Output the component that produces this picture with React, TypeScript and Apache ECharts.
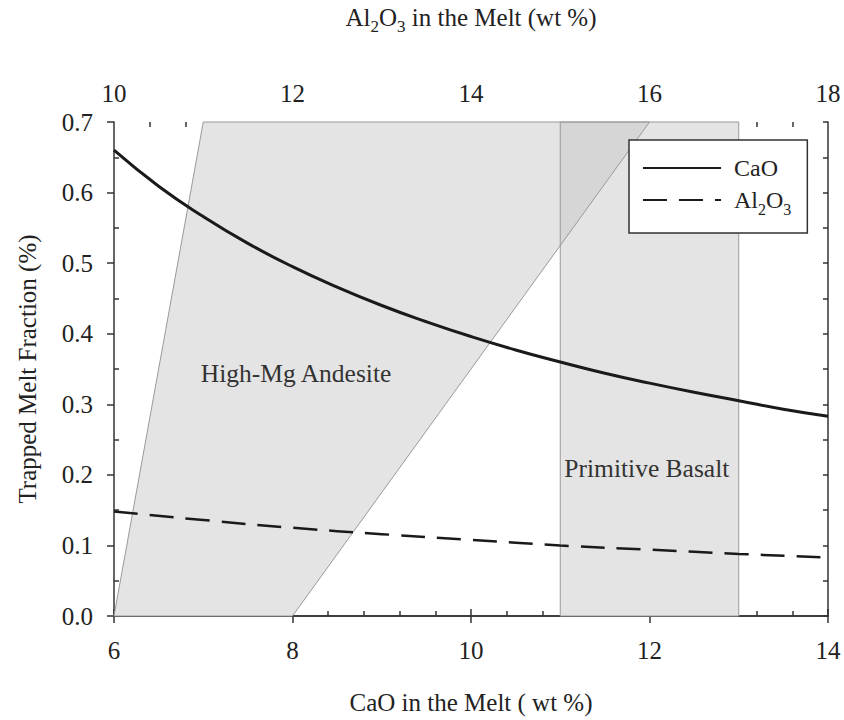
import React, { useEffect, useRef } from "react";
import * as echarts from "echarts";

// CaO curve (trapped melt fraction vs CaO in melt)
const caoX = [6, 6.5, 7, 7.5, 8, 8.5, 9, 9.5, 10, 10.5, 11, 11.5, 12, 12.5, 13, 13.5, 14];
const caoY = [0.66, 0.609, 0.566, 0.528, 0.495, 0.466, 0.44, 0.417, 0.396, 0.377, 0.36, 0.344, 0.33, 0.317, 0.305, 0.293, 0.283];
// Al2O3 curve (plotted on bottom axis scale)
const alX = [6, 7, 8, 9, 10, 11, 12, 13, 14];
const alY = [0.148, 0.136, 0.125, 0.116, 0.108, 0.1, 0.094, 0.088, 0.083];
// Fields
const andesiteField = [[6, 0], [7, 0.7], [12, 0.7], [8, 0]];
const basaltField = [[11, 0], [11, 0.7], [13, 0.7], [13, 0]];
const overlapField = [[11, 0.525], [11, 0.7], [12, 0.7]];
const fieldLabels = [
  { name: "High-Mg Andesite", x: 8.04, y: 0.343 },
  { name: "Primitive Basalt", x: 11.97, y: 0.209 },
];

const FONT = "Liberation Serif";
const TXT = "#222";
const AX = "#333";

export default function App() {
  const ref = useRef<HTMLDivElement>(null);
  useEffect(() => {
    if (!ref.current) return;
    const chart = echarts.init(ref.current, undefined, { renderer: "svg" });
    const subRich = { sub: { fontSize: 16, fontFamily: FONT, color: TXT, padding: [18, 0, 0, 0] } };
    const polySeries = (id: string, pts: number[][], fill: string) => ({
      type: "custom",
      id,
      silent: true,
      xAxisIndex: 0,
      yAxisIndex: 0,
      data: [[pts[0][0], pts[0][1]]],
      renderItem: (_p: any, api: any) => ({
        type: "polygon",
        shape: { points: pts.map((p) => api.coord(p)) },
        style: { fill, stroke: "none" },
      }),
      z: 1,
    });
    const axisLine = { show: true, lineStyle: { color: AX, width: 1.5 } };
    const tickLabel = { fontSize: 25, fontFamily: FONT, color: TXT };
    const option: any = {
      animation: false,
      textStyle: { fontFamily: FONT },
      grid: { left: 114, top: 119, right: 16, bottom: 103 },
      legend: {
        left: 629,
        top: 140,
        orient: "vertical",
        selectedMode: false,
        backgroundColor: "#fff",
        borderColor: AX,
        borderWidth: 1.5,
        padding: [16, 16, 16, 13],
        itemWidth: 78,
        itemHeight: 20,
        itemGap: 8,
        itemStyle: { color: "transparent", borderWidth: 0, opacity: 0 },
        textStyle: { fontSize: 24, fontFamily: FONT, color: TXT, padding: [0, 0, 0, 8], rich: subRich },
        formatter: (n: string) => (n === "Al2O3" ? "Al{sub|2}O{sub|3}" : n),
        data: ["CaO", "Al2O3"],
      },
      xAxis: [
        {
          type: "value", position: "bottom", min: 6, max: 14, interval: 2,
          axisLine, splitLine: { show: false },
          axisTick: { show: true, inside: false, length: 7, lineStyle: { color: AX, width: 1.5 } },
          axisLabel: { ...tickLabel, margin: 22 },
          name: "CaO in the Melt ( wt %)", nameLocation: "middle", nameGap: 74,
          nameTextStyle: { fontSize: 25, fontFamily: FONT, color: TXT },
        },
        {
          type: "value", position: "bottom", min: 6, max: 14, interval: 2,
          axisLine: { show: false }, splitLine: { show: false }, axisLabel: { show: false },
          axisTick: { show: false, inside: true },
          minorTick: { show: true, splitNumber: 5, length: 5, lineStyle: { color: AX, width: 1.5 } },
        },
        {
          type: "value", position: "top", min: 10, max: 18, interval: 2,
          axisLine, splitLine: { show: false },
          axisTick: { show: true, inside: false, length: 7, lineStyle: { color: AX, width: 1.5 } },
          axisLabel: { ...tickLabel, margin: 16 },
          name: "Al{sub|2}O{sub|3} in the Melt (wt %)", nameLocation: "middle", nameGap: 87,
          nameTextStyle: { fontSize: 25, fontFamily: FONT, color: TXT, rich: { sub: { ...subRich.sub, fontSize: 17 } } },
        },
        {
          type: "value", position: "top", min: 10, max: 18, interval: 2,
          axisLine: { show: false }, splitLine: { show: false }, axisLabel: { show: false },
          axisTick: { show: false, inside: true },
          minorTick: { show: true, splitNumber: 5, length: 5, lineStyle: { color: AX, width: 1.5 } },
        },
      ],
      yAxis: [
        {
          type: "value", position: "left", min: 0, max: 0.7, interval: 0.1,
          axisLine, splitLine: { show: false },
          axisTick: { show: true, inside: false, length: 7, lineStyle: { color: AX, width: 1.5 } },
          axisLabel: { ...tickLabel, margin: 21, formatter: (v: number) => v.toFixed(1) },
          name: "Trapped Melt Fraction (%)", nameLocation: "middle", nameGap: 74, nameRotate: 90,
          nameTextStyle: { fontSize: 25, fontFamily: FONT, color: TXT },
        },
        {
          type: "value", position: "left", min: 0, max: 0.7, interval: 0.1,
          axisLine: { show: false }, splitLine: { show: false }, axisLabel: { show: false },
          axisTick: { show: false, inside: true },
          minorTick: { show: true, splitNumber: 2, length: 5, lineStyle: { color: AX, width: 1.5 } },
        },
        {
          type: "value", position: "right", min: 0, max: 0.7, interval: 0.05,
          axisLine, splitLine: { show: false }, axisLabel: { show: false },
          axisTick: { show: true, inside: true, length: 5, lineStyle: { color: AX, width: 1.5 } },
        },
      ],
      series: [
        polySeries("andesite", andesiteField, "#e4e4e4"),
        polySeries("basalt", basaltField, "#e4e4e4"),
        polySeries("overlap", overlapField, "#d6d6d6"),
        {
          type: "custom",
          id: "edges",
          silent: true,
          data: [[6, 0]],
          renderItem: (_p: any, api: any) => ({
            type: "group",
            children: [andesiteField, basaltField].map((pts) => ({
              type: "polygon",
              shape: { points: pts.map((p) => api.coord(p)) },
              style: { fill: "none", stroke: "#9a9a9a", lineWidth: 1 },
            })),
          }),
          z: 1,
        },
        {
          type: "custom",
          id: "labels",
          silent: true,
          data: fieldLabels.map((d) => [d.x, d.y]),
          renderItem: (p: any, api: any) => {
            const c = api.coord([api.value(0), api.value(1)]);
            return {
              type: "text",
              x: c[0],
              y: c[1],
              style: {
                text: fieldLabels[p.dataIndex].name,
                fontSize: 25.5,
                fontFamily: FONT,
                fill: "#333",
                align: "center",
                verticalAlign: "middle",
              },
            };
          },
          z: 3,
        },
        {
          type: "line",
          name: "CaO",
          data: caoX.map((x, i) => [x, caoY[i]]),
          smooth: true,
          symbol: "none",
          lineStyle: { color: "#1a1a1a", width: 3 },
          itemStyle: { color: "#1a1a1a" },
          z: 4,
        },
        {
          type: "line",
          name: "Al2O3",
          data: alX.map((x, i) => [x, alY[i]]),
          smooth: true,
          symbol: "none",
          lineStyle: { color: "#1a1a1a", width: 2.5, type: [24, 12] },
          itemStyle: { color: "#1a1a1a" },
          z: 4,
        },
      ],
    };
    chart.setOption(option);
    return () => chart.dispose();
  }, []);
  return (
    <div
      ref={ref}
      style={{ position: "absolute", left: 0, top: 0, width: 844, height: 720, background: "#fff" }}
    />
  );
}
